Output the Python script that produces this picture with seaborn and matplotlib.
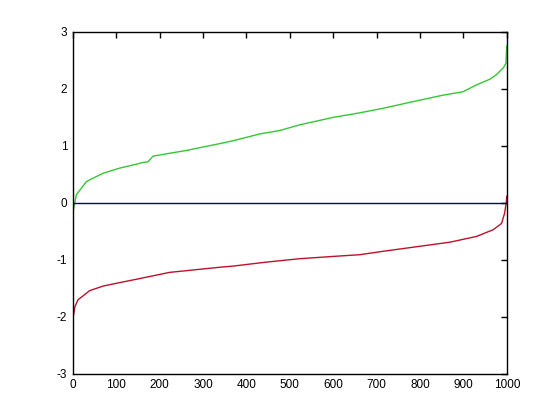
import pandas as pd
import matplotlib
matplotlib.use('Agg')
import matplotlib.pyplot as plt
import seaborn as sns

# values
green_x = [0, 8, 20, 31, 43, 70, 108, 147, 162, 173, 185, 223, 262, 300, 339, 369, 431, 477,
           523, 600, 661, 715, 792, 853, 899, 930, 961, 976, 992, 998, 1000]
green_y = [-0.18, 0.14, 0.26, 0.37, 0.42, 0.52, 0.61, 0.68, 0.71, 0.72, 0.82, 0.87, 0.92, 0.98,
           1.04, 1.09, 1.21, 1.27, 1.37, 1.50, 1.58, 1.66, 1.79, 1.89, 1.95, 2.07, 2.17, 2.25,
           2.37, 2.45, 2.76]

red_x = [0, 2, 5, 12, 24, 39, 70, 108, 147, 185, 223, 262, 300, 339, 369, 446, 523, 600, 661,
         715, 792, 869, 930, 969, 988, 995, 999, 1000]
red_y = [-2.0, -1.96, -1.82, -1.70, -1.63, -1.54, -1.46, -1.40, -1.34, -1.28, -1.22, -1.19,
         -1.16, -1.13, -1.11, -1.04, -0.98, -0.94, -0.91, -0.85, -0.77, -0.69, -0.59, -0.47,
         -0.36, -0.18, 0.02, 0.12]

blue_x = [0, 1000]
blue_y = [0, 0]

xticks = [0, 100, 200, 300, 400, 500, 600, 700, 800, 900, 1000]
yticks = [-3, -2, -1, 0, 1, 2, 3]

sns.set_style("white")
plt.rcParams['font.family'] = ['Liberation Sans', 'DejaVu Sans']
plt.rcParams['axes.unicode_minus'] = False

fig = plt.figure(figsize=(5.6, 4.2), dpi=100)
ax = fig.add_axes([0.13, 0.11, 0.775, 0.814])

g = pd.DataFrame({'x': green_x, 'y': green_y})
r = pd.DataFrame({'x': red_x, 'y': red_y})
b = pd.DataFrame({'x': blue_x, 'y': blue_y})

sns.lineplot(data=g, x='x', y='y', color='#33c833', lw=1, ax=ax, sort=False)
sns.lineplot(data=r, x='x', y='y', color='#c0102a', lw=1, ax=ax, sort=False)
sns.lineplot(data=b, x='x', y='y', color='#000088', lw=1, ax=ax, sort=False)

ax.set_xlim(0, 1000)
ax.set_ylim(-3, 3)
ax.set_xticks(xticks)
ax.set_yticks(yticks)
ax.set_xlabel('')
ax.set_ylabel('')
ax.tick_params(direction='in', length=4, width=1, top=True, right=True,
               labelsize=8.5, colors='black', pad=4)
for s in ax.spines.values():
    s.set_color('black')
    s.set_linewidth(1)

fig.savefig('out.png', dpi=100)
